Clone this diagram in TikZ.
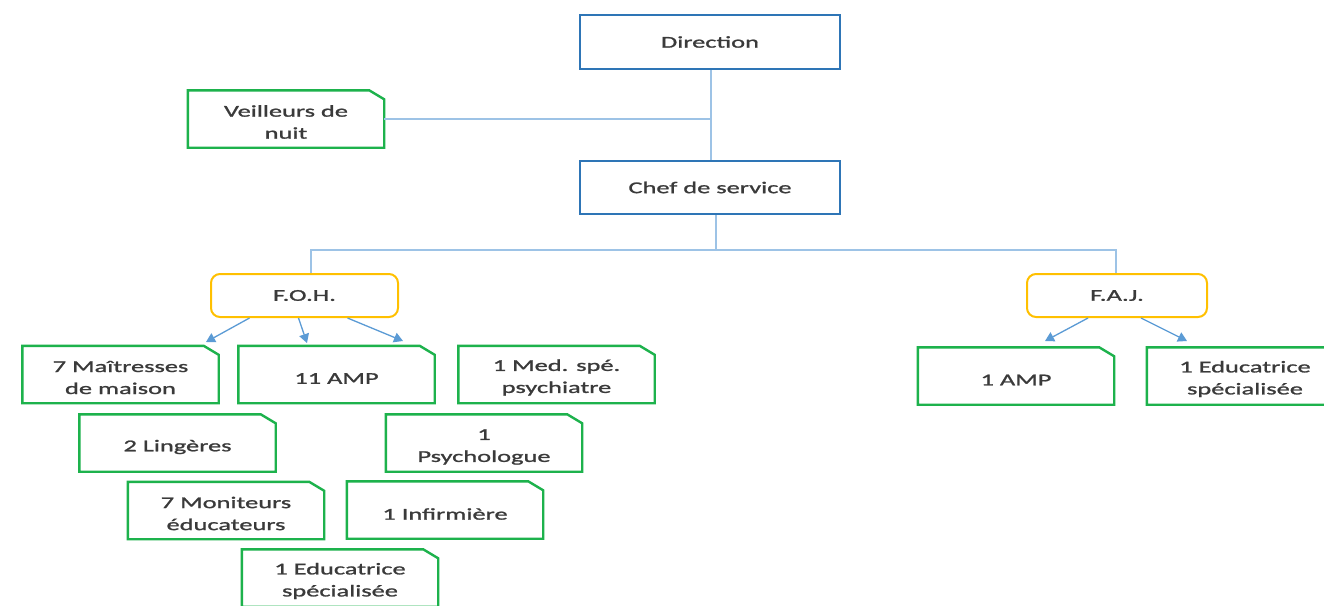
\documentclass[tikz,border=0pt]{standalone}
\usepackage{fontspec}
\setmainfont[FakeStretch=1.6,FakeBold=1.3]{Carlito}
\usetikzlibrary{arrows.meta}
\definecolor{txt}{HTML}{3A3A3A}
\definecolor{bluebox}{HTML}{2E75B6}
\definecolor{greenbox}{HTML}{1DB24C}
\definecolor{orangebox}{HTML}{FFC000}
\definecolor{connc}{HTML}{9DC3E6}
\definecolor{arrc}{HTML}{5B9BD5}
\tikzset{
  basetext/.style={text=txt, font=\fontsize{16.5}{22}\selectfont, align=center, inner sep=0pt},
  bbox/.style={basetext, draw=bluebox, line width=2.6pt, minimum width=260pt, minimum height=54pt},
  obox/.style={basetext, draw=orangebox, line width=2pt, rounded corners=9pt, minimum height=43pt},
  gshape/.style={inner sep=0pt, minimum width=196pt, minimum height=57pt},
  gline/.style={draw=greenbox, line width=2.4pt, line join=miter},
  conn/.style={draw=connc, line width=1.6pt},
  arr/.style={draw=arrc, line width=1.3pt, -{Triangle[length=9pt,width=10pt]}}
}
% #1 name, #2 x, #3 y, #4 text, #5 downward text shift
\newcommand\gbox[5]{%
  \node[gshape] (#1) at (#2,#3) {};
  \draw[gline] (#1.south west) -- (#1.north west) -- ([xshift=-15pt]#1.north east)
     -- ([yshift=-9pt]#1.north east) -- (#1.south east) -- cycle;
  \node[basetext] (#1t) at ([yshift=-#5]#1.center) {#4};}
\begin{document}
\begin{tikzpicture}[x=1pt,y=-1pt]
\useasboundingbox (0,0) rectangle (1324,605);
\clip (0,0) rectangle (1324,605);
\fill[white] (0,0) rectangle (1324,605);

\node[bbox] (dir) at (710,42) {Direction};
\node[bbox, minimum height=53pt] (chef) at (710,187.5) {Chef de service};
\gbox{veil}{286}{119}{Veilleurs de\\nuit}{3pt}

\node[obox, minimum width=187pt] (foh) at (304.5,295.5) {\raisebox{-1.5pt}{F.O.H.}};
\node[obox, minimum width=180pt] (faj) at (1117,295.5) {\raisebox{-1.5pt}{F.A.J.}};

\gbox{mait}{120.5}{374.5}{7 Maîtresses\\de maison}{3pt}
\gbox{amp}{336.5}{374.5}{11 AMP}{4pt}
\gbox{med}{556.5}{374.5}{1 Med. spé.\\psychiatre}{3pt}
\gbox{ling}{177.5}{443}{2 Lingères}{4pt}
\gbox{psy}{484}{443}{1\\Psychologue}{4pt}
\gbox{mon}{226}{510.5}{7 Moniteurs\\éducateurs}{3pt}
\gbox{inf}{445}{510}{1 Infirmière}{4pt}
\gbox{edu}{340}{578}{1 Educatrice\\spécialisée}{3pt}
\gbox{amp2}{1016}{376}{1 AMP}{4pt}
\gbox{edu2}{1245}{376}{1 Educatrice\\spécialisée}{3pt}

% connectors
\draw[conn] ([xshift=1pt]dir.south) -- ([xshift=1pt]chef.north);
\draw[conn] (veil.east) -- ([xshift=1pt]veil.east -| dir.south);
\coordinate (bus) at (716,250);
\draw[conn] ([xshift=6pt]chef.south) -- (bus);
\draw[conn] ([xshift=6.5pt]foh.north) -- ([xshift=6.5pt]foh.north |- bus)
  -- ([xshift=-1pt]faj.north |- bus) -- ([xshift=-1pt]faj.north);

% arrows
\coordinate (t1) at (206,342);
\coordinate (t2) at (307,343);
\coordinate (t3) at (403,341);
\coordinate (t4) at (1045,341);
\coordinate (t5) at (1187,341);
\draw[arr] ([xshift=-55pt]foh.south) -- (t1);
\draw[arr] ([xshift=-6pt]foh.south) -- (t2);
\draw[arr] ([xshift=43pt]foh.south) -- (t3);
\draw[arr] ([xshift=-29pt]faj.south) -- (t4);
\draw[arr] ([xshift=24pt]faj.south) -- (t5);
\end{tikzpicture}
\end{document}
